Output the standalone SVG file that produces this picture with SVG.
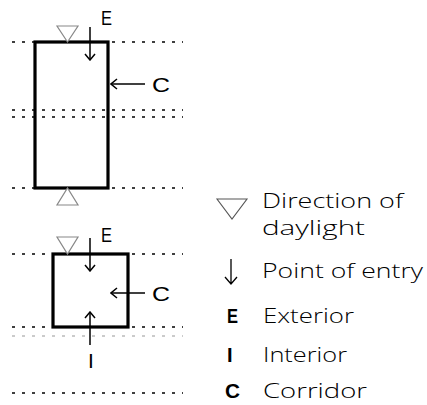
<svg xmlns="http://www.w3.org/2000/svg" width="427" height="405" viewBox="0 0 427 405">
<style>
.dot{stroke:#000;stroke-width:1.3;stroke-dasharray:3 7;fill:none}
.dotg{stroke:#bbb;stroke-width:1.3;stroke-dasharray:3 7;fill:none}
.room{fill:none;stroke:#000;stroke-width:3.2}
.tri{fill:#fff;stroke:#888;stroke-width:1.2}
.arr{fill:none;stroke:#000;stroke-width:1.5}
.lbl{font-family:"Liberation Sans",Arial,sans-serif;font-size:21px;fill:#000}
.leg{font-family:"Open Sans","Liberation Sans",sans-serif;font-weight:300;font-size:21px;fill:#000}
.legk{font-family:"Liberation Sans",Arial,sans-serif;font-weight:bold;font-size:20px;fill:#000}
</style>
<defs>
<marker id="ah" viewBox="0 0 12 12" refX="11" refY="6" markerWidth="12" markerHeight="12" markerUnits="userSpaceOnUse" orient="auto">
<path d="M5,1 L11,6 L5,11" fill="none" stroke="#000" stroke-width="1.5"/>
</marker>
</defs>
<g id="gridlines">
<line class="dot" x1="12" y1="42" x2="183" y2="42"/>
<line class="dot" x1="12" y1="110" x2="183" y2="110"/>
<line class="dot" x1="12" y1="117" x2="183" y2="117"/>
<line class="dot" x1="12" y1="188" x2="183" y2="188"/>
<line class="dot" x1="12" y1="254" x2="183" y2="254"/>
<line class="dot" x1="12" y1="327" x2="183" y2="327"/>
<line class="dotg" x1="12" y1="336" x2="183" y2="336"/>
<line class="dot" x1="12" y1="393" x2="183" y2="393"/>
</g>
<g id="room-tall">
<rect class="room" x="35" y="42" width="73" height="146" fill="#fff"/>
<polygon class="tri" points="57,26 78,26 67.5,42"/>
<polygon class="tri" points="57,205 78,205 67.5,188"/>
</g>
<g id="room-square">
<rect class="room" x="53" y="254" width="75" height="73"/>
<polygon class="tri" points="57,237 78,237 67.5,254"/>
</g>
<g id="connectors">
<line class="arr" x1="90" y1="27" x2="90" y2="60" marker-end="url(#ah)"/>
<line class="arr" x1="145" y1="84" x2="111" y2="84" marker-end="url(#ah)"/>
<line class="arr" x1="90" y1="238" x2="90" y2="271" marker-end="url(#ah)"/>
<line class="arr" x1="145" y1="293" x2="111" y2="293" marker-end="url(#ah)"/>
<line class="arr" x1="90" y1="345" x2="90" y2="312" marker-end="url(#ah)"/>
</g>
<g id="labels">
<text class="lbl" x="101" y="25" textLength="11" lengthAdjust="spacingAndGlyphs">E</text>
<text class="lbl" x="152" y="91.5" textLength="18" lengthAdjust="spacingAndGlyphs">C</text>
<text class="lbl" x="101" y="242" textLength="11" lengthAdjust="spacingAndGlyphs">E</text>
<text class="lbl" x="152" y="301" textLength="18" lengthAdjust="spacingAndGlyphs">C</text>
<text class="lbl" x="88" y="368">I</text>
</g>
<g id="legend">
<polygon points="217,199 247,199 232,219" fill="none" stroke="#555" stroke-width="1.1"/>
<text class="leg" x="262" y="208" textLength="141" lengthAdjust="spacingAndGlyphs">Direction of</text>
<text class="leg" x="262" y="235" textLength="103" lengthAdjust="spacingAndGlyphs">daylight</text>
<path d="M231,259 V284 M225,277 L231,284 L237,277" fill="none" stroke="#000" stroke-width="1.3"/>
<text class="leg" x="262" y="278" textLength="161" lengthAdjust="spacingAndGlyphs">Point of entry</text>
<text class="legk" x="227" y="323" textLength="11" lengthAdjust="spacingAndGlyphs">E</text>
<text class="leg" x="263" y="323" textLength="91" lengthAdjust="spacingAndGlyphs">Exterior</text>
<text class="legk" x="227" y="362">I</text>
<text class="leg" x="263" y="362" textLength="84" lengthAdjust="spacingAndGlyphs">Interior</text>
<text class="legk" x="225" y="398" textLength="15" lengthAdjust="spacingAndGlyphs">C</text>
<text class="leg" x="263" y="398" textLength="104" lengthAdjust="spacingAndGlyphs">Corridor</text>
</g>
</svg>
